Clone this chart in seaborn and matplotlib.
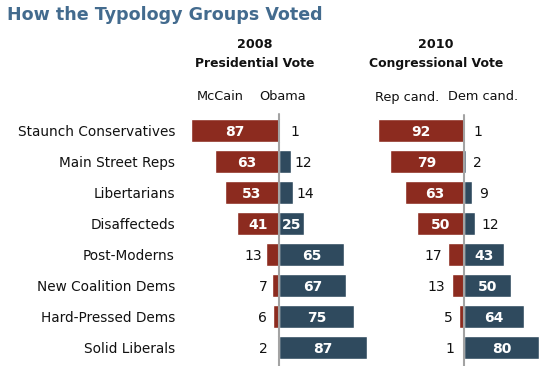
import matplotlib
matplotlib.use("Agg")
import matplotlib.pyplot as plt
import seaborn as sns
import pandas as pd

# ---- data ----
groups = ["Staunch Conservatives", "Main Street Reps", "Libertarians", "Disaffecteds",
          "Post-Moderns", "New Coalition Dems", "Hard-Pressed Dems", "Solid Liberals"]
mccain_2008 = [87, 63, 53, 41, 13, 7, 6, 2]
obama_2008 = [1, 12, 14, 25, 65, 67, 75, 87]
rep_2010 = [92, 79, 63, 50, 17, 13, 5, 1]
dem_2010 = [1, 2, 9, 12, 43, 50, 64, 80]

panel_years = ["2008", "2010"]
panel_titles = ["Presidential Vote", "Congressional Vote"]
rep_labels = ["McCain", "Rep cand."]
dem_labels = ["Obama", "Dem cand."]
title = "How the Typology Groups Voted"

# ---- style ----
RED = "#8C2B1F"
BLUE = "#2F4A5E"
TITLE_C = "#436B8E"
LINE_C = "#A3A3A3"
sns.set_theme(style="white")
plt.rcParams["font.family"] = ["DejaVu Sans"]

W, H = 550, 369
fig = plt.figure(figsize=(W / 100, H / 100), dpi=100)


def px_axes(x0, y0, x1, y1):
    ax = fig.add_axes([x0 / W, 1 - y1 / H, (x1 - x0) / W, (y1 - y0) / H])
    ax.patch.set_alpha(0)
    return ax


def ftext(x, y, s, **kw):
    fig.text(x / W, 1 - y / H, s, **kw)


panels = [
    dict(box=(180, 112, 380, 366), center=278.7, scale=1.01, minpos=7.3, gap=4.0,
         rep=mccain_2008, dem=obama_2008, hx=255, lx_rep=220, lx_dem=283, ltop=114),
    dict(box=(372, 112, 550, 366), center=464.0, scale=0.935, minpos=3.0, gap=6.5,
         rep=rep_2010, dem=dem_2010, hx=436, lx_rep=407, lx_dem=483, ltop=115),
]

row_top, row_bot = 130.5, 347.5
row_step = (row_bot - row_top) / (len(groups) - 1)

for k, p in enumerate(panels):
    x0, y0, x1, y1 = p["box"]
    ax = px_axes(x0, y0, x1, y1)
    df = pd.DataFrame({
        "group": groups * 2,
        "side": ["rep"] * len(groups) + ["dem"] * len(groups),
        "value": [-v for v in p["rep"]] + list(p["dem"]),
    })
    sns.barplot(data=df, x="value", y="group", hue="side", orient="h",
                palette={"rep": RED, "dem": BLUE}, dodge=False, width=0.71,
                legend=False, ax=ax, saturation=1)
    xl = (x0 - p["center"]) / p["scale"]
    xr = (x1 - p["center"]) / p["scale"]
    ax.set_xlim(xl, xr)
    top_u = -(row_top - y0) / row_step
    bot_u = (len(groups) - 1) + (y1 - row_bot) / row_step
    ax.set_ylim(bot_u, top_u)
    for s in ax.spines.values():
        s.set_visible(False)
    ax.set_xticks([])
    ax.set_xlabel("")
    ax.set_ylabel("")
    if k == 0:
        ax.tick_params(axis="y", length=0, pad=3.6, labelsize=9.8, labelcolor="#111111")
    else:
        ax.set_yticks([])
    ax.axvline(0, ymin=0, ymax=1 - (p["ltop"] - y0) / (y1 - y0), color=LINE_C, lw=1.5, zorder=5)

    gap_u = p["gap"] / p["scale"]
    for i in range(len(groups)):
        for sign, v in ((-1, p["rep"][i]), (1, p["dem"][i])):
            if v >= 20:
                ax.text(sign * v / 2, i, str(v), ha="center", va="center_baseline",
                        color="white", fontsize=10, fontweight="bold", zorder=6)
            else:
                pos = max(v, p["minpos"]) + gap_u
                ax.text(sign * pos, i, str(v), ha="left" if sign > 0 else "right",
                        va="center_baseline", color="#111111", fontsize=10, zorder=6)

    ftext(p["hx"], 44, panel_years[k], ha="center", va="center", fontsize=9.2,
          fontweight="bold", color="#111111")
    ftext(p["hx"], 63.5, panel_titles[k], ha="center", va="center", fontsize=8.9,
          fontweight="bold", color="#111111")
    ftext(p["lx_rep"], 97, rep_labels[k], ha="center", va="center", fontsize=9.3,
          color="#111111")
    ftext(p["lx_dem"], 97, dem_labels[k], ha="center", va="center", fontsize=9.3,
          color="#111111")

ftext(7, 15, title, ha="left", va="center", fontsize=12.6, fontweight="bold", color=TITLE_C)

fig.savefig("out.png", dpi=100)
